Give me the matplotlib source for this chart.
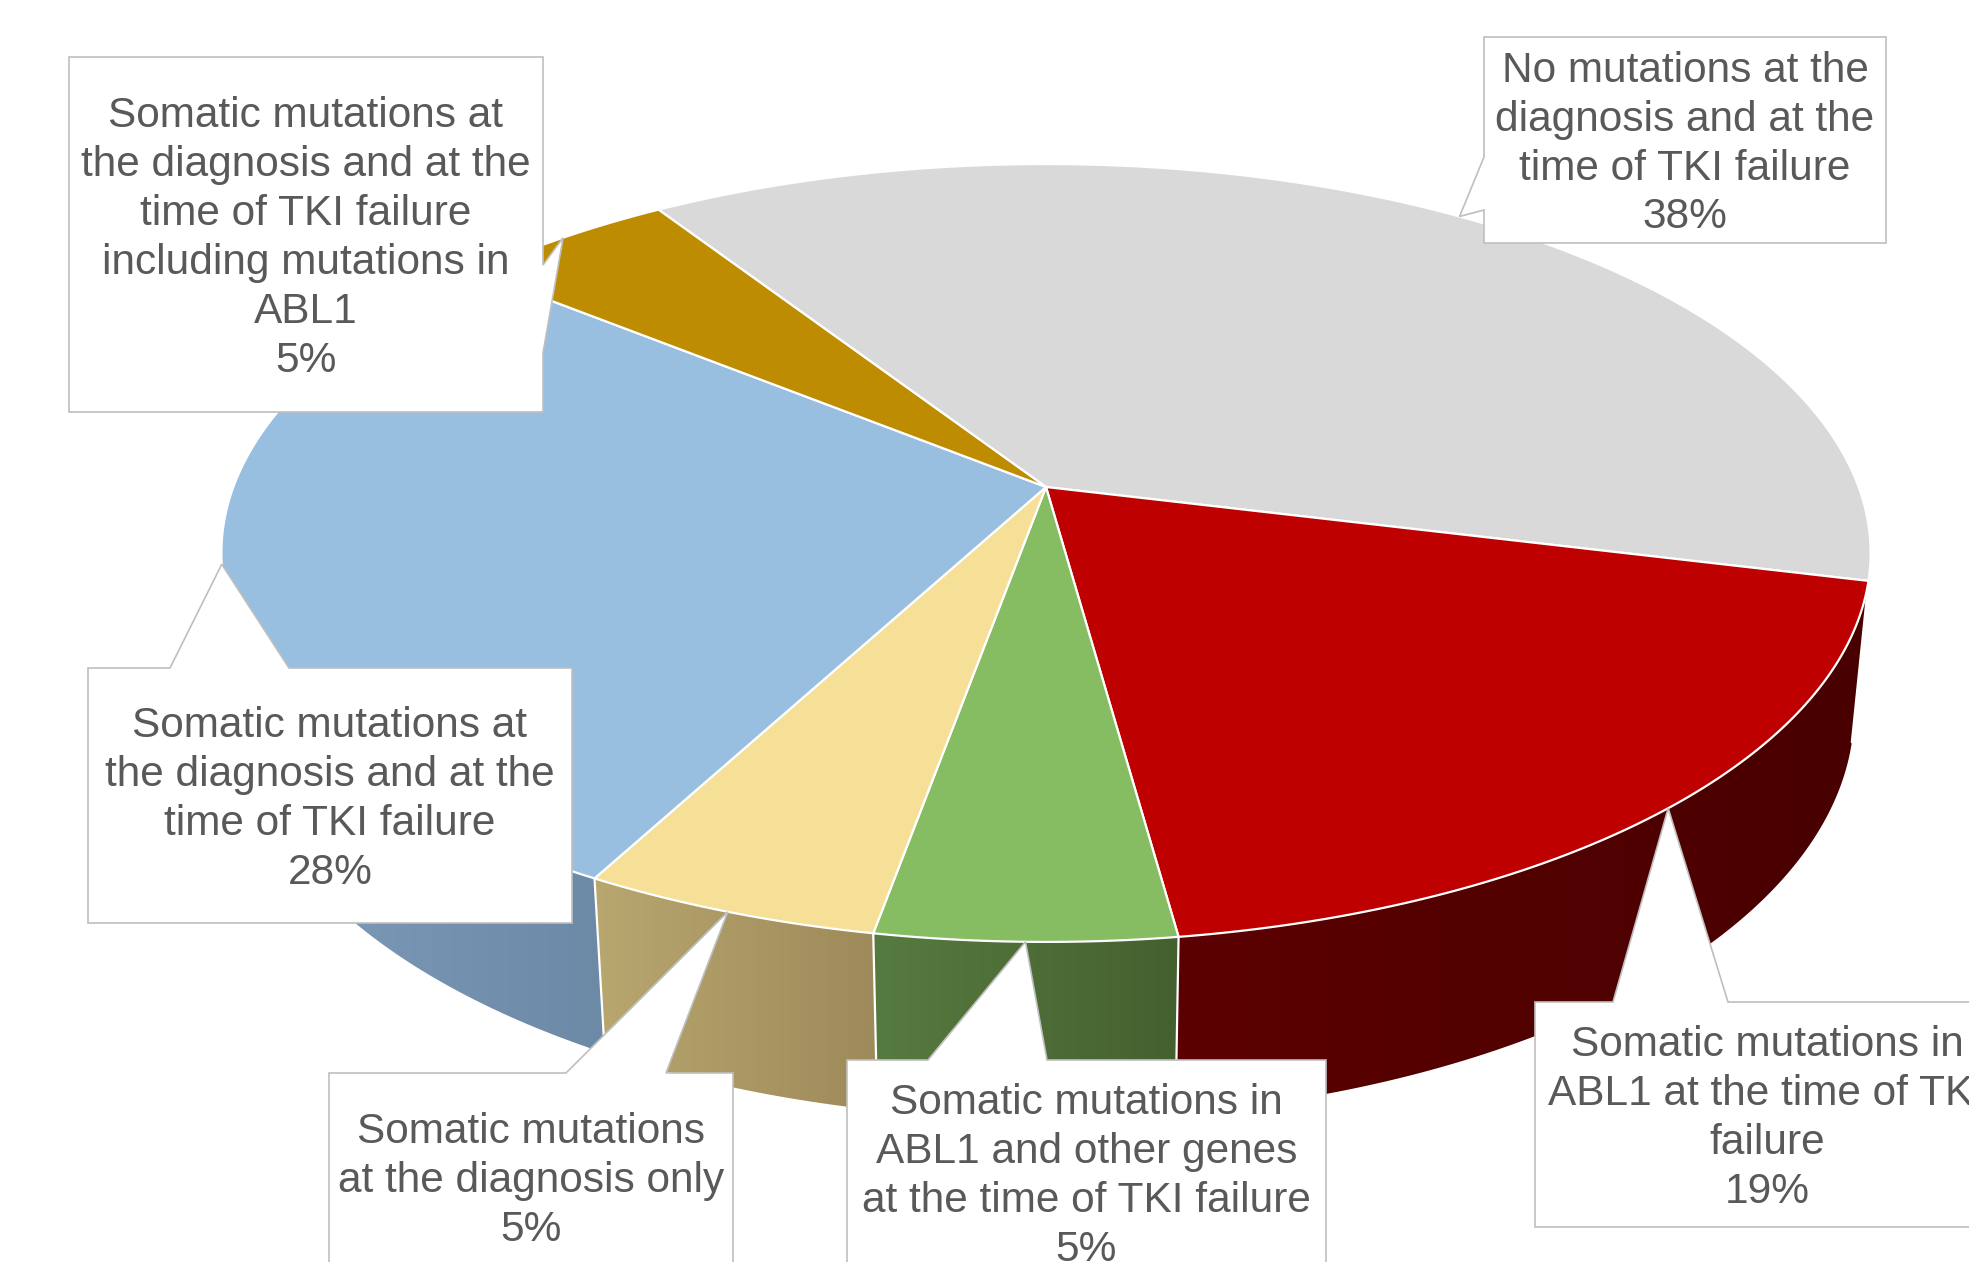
import numpy as np
import matplotlib
matplotlib.use("Agg")
import matplotlib.pyplot as plt
from matplotlib.patches import Polygon
from matplotlib.colors import to_rgb

# ---------------- data ----------------
categories = [
    "No mutations at the\ndiagnosis and at the\ntime of TKI failure",
    "Somatic mutations in\nABL1 at the time of TKI\nfailure",
    "Somatic mutations in\nABL1 and other genes\nat the time of TKI failure",
    "Somatic mutations\nat the diagnosis only",
    "Somatic mutations at\nthe diagnosis and at the\ntime of TKI failure",
    "Somatic mutations at\nthe diagnosis and at the\ntime of TKI failure\nincluding mutations in\nABL1",
]
values = [38, 19, 5, 5, 28, 5]
top_colors = ["#d9d9d9", "#be0000", "#86bd62", "#f6df97", "#98bee0", "#bd8c00"]
side_left = ["#a6a6a6", "#5c0000", "#567b40", "#b8a76f", "#809fbd", "#8c6800"]
side_right = ["#8f8f8f", "#480000", "#45602f", "#9e8a5a", "#6c89a6", "#755700"]

# callout layout: (x0, y0, x1, y1, pointer side, base a, base b)
callout_boxes = [
    (1484, 37, 1886, 243, "left", 157, 210),
    (1535, 1002, 1999, 1227, "top", 1613, 1728),
    (847, 1060, 1326, 1285, "top", 928, 1047),
    (329, 1073, 733, 1281, "top", 566, 666),
    (88, 668, 572, 923, "top", 170, 289),
    (69, 57, 543, 412, "right", 265, 353),
]

# ---------------- 3D projection settings ----------------
W, H = 1969, 1262
CX, CY = 1046.0, 487.0
FOCAL = 4242.0
DIST = 5.22
ELEV = np.radians(27.7)
THICK = 0.222
START = 123.0  # degrees, slices run clockwise
TEXT_COLOR = "#595959"
FONT = ["Liberation Sans", "DejaVu Sans"]


def project(t, z):
    ce, se = np.cos(ELEV), np.sin(ELEV)
    depth = DIST + np.sin(t) * ce - z * se
    x = CX + FOCAL * np.cos(t) / depth
    y = CY - FOCAL * (np.sin(t) * se + z * ce) / depth
    return x, y


fig = plt.figure(figsize=(W / 100, H / 100), dpi=100)
fig.patch.set_facecolor("white")
ax = fig.add_axes([0, 0, 1, 1])
ax.set_xlim(0, W)
ax.set_ylim(H, 0)
ax.axis("off")

fracs = np.array(values, dtype=float) / np.sum(values)
bounds = np.radians(START - 360.0 * np.concatenate([[0], np.cumsum(fracs)]))

# visible range of the cylinder side
lim = np.arcsin(-1.0 / (DIST * np.cos(ELEV)))
vis_lo, vis_hi = -np.pi - lim, lim

# ---- sides (horizontal gradient, clipped to side polygon) ----
for i in range(len(values)):
    a_start, a_end = bounds[i], bounds[i + 1]
    for k in (-1, 0, 1):
        lo = max(a_end, vis_lo + 2 * np.pi * k)
        hi = min(a_start, vis_hi + 2 * np.pi * k)
        if hi - lo <= 1e-4:
            continue
        ts = np.linspace(lo, hi, max(int(np.degrees(hi - lo) * 2), 4))
        xt, yt = project(ts, 0.0)
        xb, yb = project(ts, -THICK)
        pts = list(zip(xt, yt)) + list(zip(xb[::-1], yb[::-1]))
        poly = Polygon(pts, closed=True, facecolor="none", edgecolor="none")
        ax.add_patch(poly)
        xmin, xmax = min(xt.min(), xb.min()), max(xt.max(), xb.max())
        ymin, ymax = min(yt.min(), yb.min()), max(yt.max(), yb.max())
        cl, cr = np.array(to_rgb(side_left[i])), np.array(to_rgb(side_right[i]))
        f = np.linspace(0, 1, 256)[None, :, None]
        grad = cl[None, None, :] * (1 - f) + cr[None, None, :] * f
        im = ax.imshow(grad, extent=(xmin, xmax, ymax, ymin), origin="upper",
                       aspect="auto", interpolation="bilinear", zorder=1)
        im.set_clip_path(poly)

# white vertical edges at slice boundaries on the visible side
for b in bounds:
    bb = (b + np.pi) % (2 * np.pi) - np.pi
    if vis_lo < bb < vis_hi:
        x0, y0 = project(bb, 0.0)
        x1, y1 = project(bb, -THICK)
        ax.plot([x0, x1], [y0, y1], color="white", lw=1.6, zorder=2,
                solid_capstyle="round")

# ---- top wedges ----
for i in range(len(values)):
    a_start, a_end = bounds[i], bounds[i + 1]
    n = max(int(np.degrees(a_start - a_end) * 2), 4)
    ts = np.linspace(a_start, a_end, n)
    xs, ys = project(ts, 0.0)
    pts = [(CX, CY)] + list(zip(xs, ys))
    ax.add_patch(Polygon(pts, closed=True, facecolor=top_colors[i],
                         edgecolor="white", linewidth=1.6, joinstyle="round",
                         zorder=3))

# ---- callouts ----
for i, (x0, y0, x1, y1, side, ba, bb) in enumerate(callout_boxes):
    mid = 0.5 * (bounds[i] + bounds[i + 1])
    tip = project(mid, 0.0)
    if side == "top":
        pts = [(x0, y0), (ba, y0), tip, (bb, y0), (x1, y0), (x1, y1), (x0, y1)]
    elif side == "right":
        pts = [(x0, y0), (x1, y0), (x1, ba), tip, (x1, bb), (x1, y1), (x0, y1)]
    else:
        pts = [(x0, y0), (x1, y0), (x1, y1), (x0, y1), (x0, bb), tip, (x0, ba)]
    ax.add_patch(Polygon(pts, closed=True, facecolor="white",
                         edgecolor="#bfbfbf", linewidth=1.2, zorder=5))
    lines = categories[i].split("\n") + [f"{values[i]}%"]
    n = len(lines)
    cx, cy = 0.5 * (x0 + x1), 0.5 * (y0 + y1)
    for j, line in enumerate(lines):
        yb_ = cy + (j - (n - 1) / 2) * 49 + 15
        ax.text(cx, yb_, line, ha="center", va="baseline", fontsize=30.5,
                color=TEXT_COLOR, family=FONT, zorder=6)

ax.set_xlim(0, W)
ax.set_ylim(H, 0)
fig.savefig("out.png", dpi=100, facecolor="white")
